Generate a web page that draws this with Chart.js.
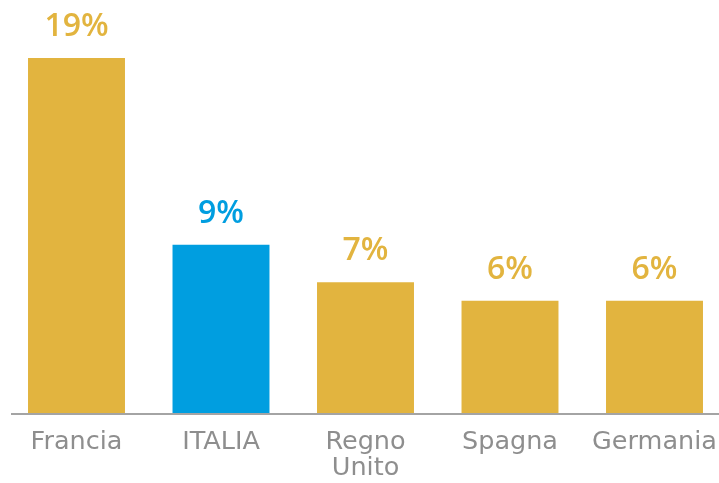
<!DOCTYPE html>
<html>
<head>
<meta charset="utf-8">
<script src="https://cdn.jsdelivr.net/npm/chart.js@4"></script>
<style>
  html, body { margin: 0; padding: 0; background: #fff; overflow: hidden; }
  #wrap { width: 719px; height: 483px; overflow: hidden; }
</style>
</head>
<body>
<div id="wrap"><canvas id="barChart" width="728" height="483"></canvas></div>
<script>
// data
const categories = ['Francia', 'ITALIA', ['Regno', 'Unito'], 'Spagna', 'Germania'];
const shares = [19, 9, 7, 6, 6];
const valueLabels = ['19%', '9%', '7%', '6%', '6%'];
const barColors = ['#E2B43F', '#009EE0', '#E2B43F', '#E2B43F', '#E2B43F'];

// percent labels above bars + the grey base line
const extras = {
    id: 'extras',
    afterDatasetsDraw(chart) {
        const ctx = chart.ctx;
        const meta = chart.getDatasetMeta(0);
        ctx.save();
        ctx.font = '600 32px "Open Sans"';
        ctx.textAlign = 'center';
        ctx.textBaseline = 'alphabetic';
        meta.data.forEach((bar, i) => {
            ctx.fillStyle = barColors[i];
            ctx.fillText(valueLabels[i], bar.x, bar.y - 22);
        });
        // axis line
        const y0 = chart.scales.y.getPixelForValue(0);
        ctx.strokeStyle = '#A4A4A4';
        ctx.lineWidth = 2;
        ctx.beginPath();
        ctx.moveTo(11, y0 + 1);
        ctx.lineTo(chart.width, y0 + 1);
        ctx.stroke();
        ctx.restore();
    }
};

const ctx = document.getElementById('barChart').getContext('2d');
const barChart = new Chart(ctx, {
    type: 'bar',
    data: {
        labels: categories,
        datasets: [{
            data: shares,
            backgroundColor: barColors,
            borderWidth: 0,
            categoryPercentage: 1,
            barPercentage: 0.671
        }]
    },
    options: {
        responsive: false,
        animation: false,
        layout: { padding: { left: 4.25, right: 1.25, top: 0 } },
        plugins: { legend: { display: false }, tooltip: { enabled: false } },
        scales: {
            x: {
                grid: { display: false, drawTicks: false },
                border: { display: false },
                ticks: {
                    color: '#8E8E8E',
                    font: { family: 'DejaVu Sans', size: 25.5, lineHeight: 1.0 },
                    padding: 17,
                    maxRotation: 0,
                    autoSkip: false
                },
                afterFit(scale) {
                    scale.height = 70;
                    scale.paddingLeft = 0;
                    scale.paddingRight = 0;
                }
            },
            y: {
                display: false,
                min: 0,
                max: 22.1
            }
        }
    },
    plugins: [extras]
});
</script>
</body>
</html>
